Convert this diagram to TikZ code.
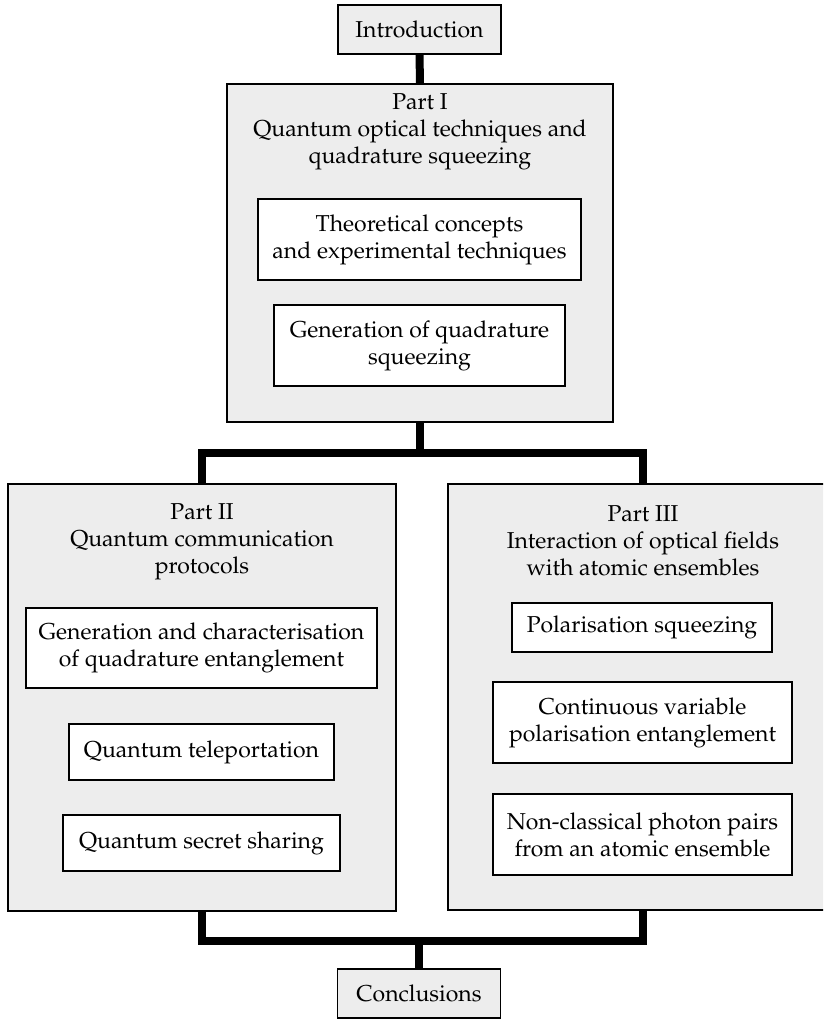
\documentclass[tikz,border=0pt]{standalone}
\usepackage[T1]{fontenc}
\usepackage{mathpazo}
\usetikzlibrary{positioning, calc}
\definecolor{boxgray}{RGB}{237,237,237}

\begin{document}
\begin{tikzpicture}[x=1pt, y=-1pt,
  font=\fontsize{23pt}{27pt}\selectfont,
  % Node Styles
  endbox/.style={rectangle, draw, line width=1.2pt, fill=boxgray, inner sep=0pt, minimum width=163pt, minimum height=49pt, align=center},
  partbox/.style={rectangle, draw, line width=1.2pt, fill=boxgray, inner sep=0pt},
  innerbox/.style={rectangle, draw, line width=1.2pt, fill=white, inner sep=0pt, align=center},
  parttitle/.style={inner sep=0pt, align=center},
  % Connector Styles
  bar/.style={line width=7.5pt, line cap=butt}
]
\clip (0,0) rectangle (823,1019);

% Outer boxes
\node[endbox] (Intro) at (419.5,29.5) {Introduction};
\node[partbox, minimum width=386pt, minimum height=338pt] (PartI) at (420,253) {};
\node[partbox, minimum width=388pt, minimum height=427pt] (PartII) at (202,697.5) {};
\node[partbox, minimum width=390pt, minimum height=426pt] (PartIII) at (643,697) {};
\node[endbox] (Concl) at (419,993.5) {Conclusions};

% Part titles
\node[parttitle] (TitleI) at (420,132) {Part I\\Quantum optical techniques and\\quadrature squeezing};
\node[parttitle] (TitleII) at (202,542) {Part II\\Quantum communication\\protocols};
\node[parttitle] (TitleIII) at (643,541) {Part III\\Interaction of optical fields\\with atomic ensembles};

% Chapters of Part I
\node[innerbox, minimum width=323pt, minimum height=81pt] (Theory) at (419.5,239.5) {Theoretical concepts\\and experimental techniques};
\node[innerbox, minimum width=291pt, minimum height=81pt] (GenSqz) at (419.5,345.5) {Generation of quadrature\\squeezing};

% Chapters of Part II
\node[innerbox, minimum width=351pt, minimum height=80pt] (GenEnt) at (201.5,648) {Generation and characterisation\\of quadrature entanglement};
\node[innerbox, minimum width=265pt, minimum height=56pt] (Telep) at (201.5,752) {Quantum teleportation};
\node[innerbox, minimum width=277pt, minimum height=56pt] (Secret) at (201.5,843) {Quantum secret sharing};

% Chapters of Part III
\node[innerbox, minimum width=260pt, minimum height=49pt] (PolSqz) at (642,627.5) {Polarisation squeezing};
\node[innerbox, minimum width=299pt, minimum height=81pt] (PolEnt) at (642.5,722.5) {Continuous variable\\polarisation entanglement};
\node[innerbox, minimum width=299pt, minimum height=81pt] (Pairs) at (642.5,834.5) {Non-classical photon pairs\\from an atomic ensemble};

% Connectors
\coordinate (TopSplit) at (420,453);
\coordinate (BotJoin) at (419,941);
\draw[bar, line width=8pt] (Intro.south) -- (PartI.north);
\draw[bar] (PartI.south) -- (TopSplit);
\draw[bar] (PartII.north) |- (TopSplit) -| (PartIII.north);
\draw[bar] (PartII.south) |- (BotJoin) -| (PartIII.south);
\draw[bar] (BotJoin) -- (Concl.north);

\end{tikzpicture}
\end{document}
